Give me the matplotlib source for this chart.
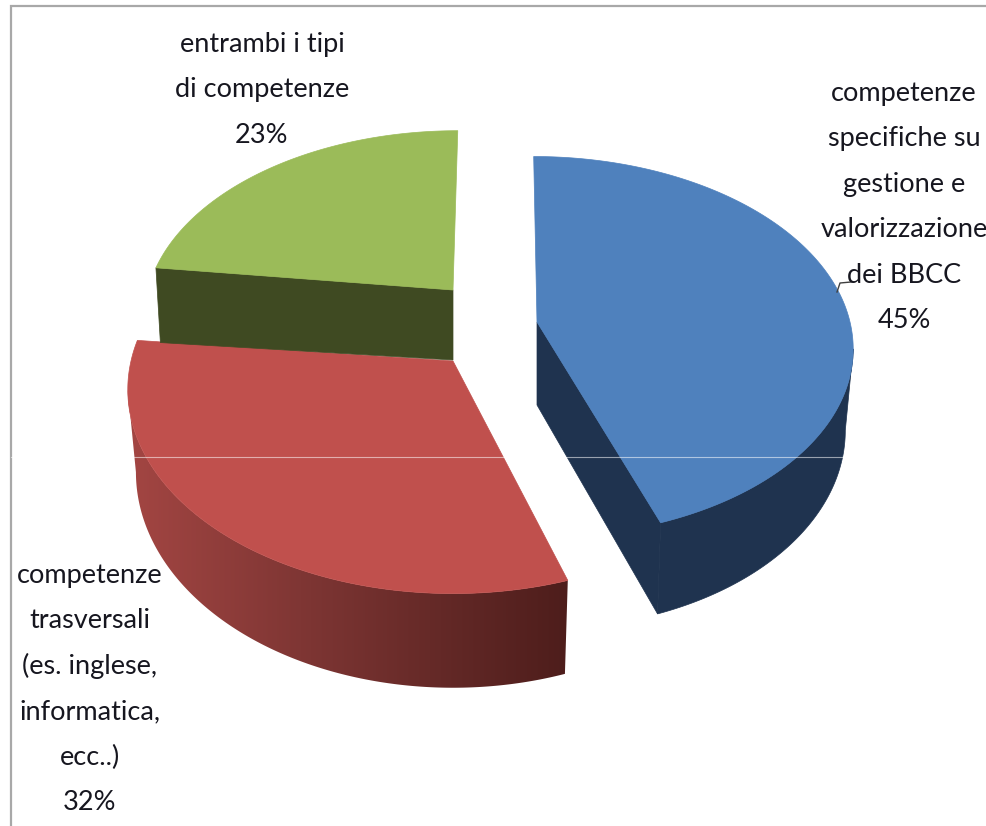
import matplotlib
matplotlib.use("Agg")
import matplotlib.pyplot as plt
from matplotlib.patches import Polygon
import numpy as np

# values, clockwise from 12 o'clock
names = ["blue", "red", "green"]
shares = [45, 32, 23]
labels = [
	["competenze", "specifiche su", "gestione e", "valorizzazione", "dei BBCC", "45%"],
	["competenze", "trasversali", "(es. inglese,", "informatica,", "ecc..)", "32%"],
	["entrambi i tipi", "di competenze", "23%"],
]

# look of the slices
topColors = ["#4f81bd", "#c0504d", "#9bbb59"]
wallColors = ["#1f334f", "#8f3d3a", "#3f4a22"]
centers = [(537, 322), (453, 361), (453, 290)]
radiiX = [313, 322, 305]
radiiY = [187, 200, 180]
perspective = [0.13, 0.14, 0.13]
shears = [0.02, 0.0, -0.03]
depths = [80, 81, 76]
endTrim = [1.6, 1.2, 0.0]
bottomScale = [0.975, 0.975, 0.985]

# where each label goes: centre x, first baseline
labelPos = [(904, 101), (90, 583), (262, 52)]
lineStep = 45.4

def project(theta, i, lower=False):
	cx, cy = centers[i]
	w = 1 + perspective[i]*np.cos(theta)
	x = radiiX[i]*np.sin(theta)/w
	y = -radiiY[i]*np.cos(theta)/w
	x = x + shears[i]*y
	if lower:
		x = x*bottomScale[i]
		y = y + depths[i]/w
	return cx + x, cy + y

def redGradient():
	xs = np.arange(120, 575)
	stops = [125, 300, 440, 570]
	r = np.interp(xs, stops, [0xa4, 0x7f, 0x64, 0x4d])
	g = np.interp(xs, stops, [0x46, 0x36, 0x29, 0x1d])
	b = np.interp(xs, stops, [0x43, 0x34, 0x27, 0x1b])
	return np.dstack([r, g, b])[:]/255

def drawSlice(ax, i, start, end):
	end = end - np.radians(endTrim[i])
	cx, cy = centers[i]
	theta = np.linspace(start, end, 480)
	tx, ty = project(theta, i)
	bx, by = project(theta, i, True)

	# outer wall, from the widest point of the top round to the front
	if names[i] != "green":
		k = np.argmax(np.abs(tx - cx))
		if names[i] == "blue":
			idx = np.arange(k, len(theta))
		else:
			idx = np.arange(0, k+1)
		pts = list(zip(tx[idx], ty[idx])) + list(zip(bx[idx][::-1], by[idx][::-1]))
		wall = Polygon(pts, facecolor=wallColors[i], edgecolor=wallColors[i], lw=0.5, zorder=i*3+1)
		ax.add_patch(wall)
		if names[i] == "red":
			wall.set_facecolor("none")
			wall.set_edgecolor("none")
			im = ax.imshow(redGradient(), extent=(120, 575, 700, 350), aspect="auto", zorder=i*3+1)
			im.set_clip_path(wall)

	# cut face that looks at the viewer
	if names[i] == "blue":
		face = [(cx, cy), (tx[-1], ty[-1]), (bx[-1], by[-1]), (cx, cy+depths[i]+3)]
		ax.add_patch(Polygon(face, facecolor=wallColors[i], edgecolor=wallColors[i], lw=0.5, zorder=i*3+1))
	if names[i] == "green":
		face = [(cx, cy), (tx[0], ty[0]), (bx[0], by[0]), (cx, cy+depths[i]-6)]
		ax.add_patch(Polygon(face, facecolor=wallColors[i], edgecolor=wallColors[i], lw=0.5, zorder=i*3+1))

	pts = [(cx, cy)] + list(zip(tx, ty))
	ax.add_patch(Polygon(pts, facecolor=topColors[i], edgecolor=topColors[i], lw=0.5, zorder=i*3+2))

def main():
	plt.rcParams['font.family'] = ['Lato', 'DejaVu Sans']
	fig = plt.figure(figsize=(9.87, 8.26), dpi=100)
	ax = fig.add_axes([0, 0, 1, 1])

	# draw back to front: green, then blue, then red
	edges = np.cumsum([0] + shares)/100*2*np.pi
	for i in [2, 0, 1]:
		drawSlice(ax, i, edges[i], edges[i+1])

	ax.set_xlim(0, 987)
	ax.set_ylim(826, 0)
	ax.axis("off")

	# chart frame, and the pale scan line running across the picture
	ax.plot([987, 11, 11], [6, 6, 826], color="#a8a8a8", lw=1.6, zorder=20, solid_joinstyle="miter")
	ax.plot([11, 846], [457, 457], color="white", lw=0.8, alpha=0.55, zorder=21)

	# leader of the blue label
	ax.plot([837, 840, 851], [292, 283, 282], color="#404040", lw=1, zorder=22)

	for lines, (x, y) in zip(labels, labelPos):
		for n, line in enumerate(lines):
			ax.text(x, y + n*lineStep, line, ha="center", va="baseline", fontsize=19.5, color="#16161f", zorder=30)

	fig.savefig("out.png", dpi=100)

if __name__ == '__main__':
	main()
